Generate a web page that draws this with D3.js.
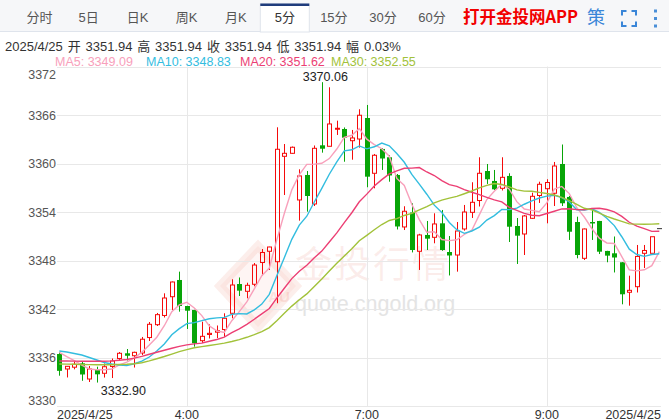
<!DOCTYPE html>
<html><head><meta charset="utf-8">
<script src="https://cdn.jsdelivr.net/npm/d3@7/dist/d3.min.js"></script>
<style>
html,body{margin:0;padding:0;background:#fff;}
svg{display:block;font-family:"Liberation Sans","Noto Sans CJK SC",sans-serif;}
</style></head><body>
<svg id="c" width="669" height="420"></svg>
<script>
// ---------------- data ----------------
const tabs = ["分时","5日","日K","周K","月K","5分","15分","30分","60分"];
const activeTab = "5分";
const infoText = "2025/4/25 开 3351.94 高 3351.94 收 3351.94 低 3351.94 幅 0.03%";
const maNames = ["MA5","MA10","MA20","MA30"];
const maLast = ["3349.09","3348.83","3351.62","3352.55"];
const yTicks = [3330,3336,3342,3348,3354,3360,3366,3372];
const xTickIdx = [17,41,65];
const xTickLabels = ["4:00","7:00","9:00"];
const dateLabel = "2025/4/25";
const maxLabel = "3370.06", minLabel = "3332.90";

const open  = [3336.43,3334.58,3334.80,3335.28,3333.34,3334.54,3334.05,3334.89,3335.88,3336.52,
               3336.22,3336.56,3338.47,3340.06,3341.20,3343.52,3345.59,3342.37,3341.88,3338.08,
               3338.85,3339.13,3339.46,3341.47,3345.09,3344.19,3345.06,3347.75,3349.14,3347.85,
               3360.89,3361.26,3355.49,3358.58,3354.99,3362.25,3362.13,3364.27,3364.27,3362.82,
               3363.03,3365.63,3358.79,3361.80,3360.77,3358.58,3352.15,3353.94,3349.14,3351.16,
               3350.87,3352.60,3349.05,3348.68,3351.90,3353.96,3355.42,3359.07,3357.84,3356.93,
               3358.46,3352.27,3351.28,3353.22,3356.04,3356.88,3356.32,3359.94,3355.86,3352.76,
               3348.27,3352.76,3352.89,3349.18,3348.89,3347.78,3344.07,3344.76,3348.89,3348.89,3351.94];
const high  = [3336.64,3334.95,3335.57,3335.48,3334.95,3334.86,3335.26,3335.88,3336.68,3337.05,
               3336.72,3338.54,3340.39,3341.51,3343.94,3345.40,3346.62,3342.40,3341.90,3340.43,
               3340.10,3339.96,3341.47,3345.68,3345.90,3345.25,3347.69,3349.42,3349.70,3364.48,
               3362.41,3362.10,3359.28,3359.07,3362.23,3370.06,3369.43,3365.30,3364.46,3364.15,
               3366.71,3367.24,3361.18,3361.90,3361.05,3358.70,3354.71,3355.08,3351.30,3352.89,
               3353.84,3354.25,3351.03,3352.76,3354.87,3357.68,3360.77,3359.94,3359.20,3360.77,
               3358.79,3353.26,3353.63,3356.39,3357.75,3358.05,3360.19,3362.35,3355.98,3353.42,
               3351.96,3354.25,3352.90,3349.20,3350.97,3347.80,3346.12,3349.92,3349.92,3350.94,3351.94];
const low   = [3333.75,3333.53,3334.54,3333.12,3332.97,3332.90,3333.52,3333.46,3335.57,3335.63,
               3334.76,3336.31,3338.04,3339.90,3340.95,3341.88,3341.67,3339.53,3337.34,3337.79,
               3338.35,3338.41,3338.57,3340.85,3343.61,3343.32,3344.81,3346.15,3346.83,3342.71,
               3356.10,3361.20,3352.93,3354.04,3354.74,3361.34,3362.10,3363.53,3360.22,3360.47,
               3361.96,3357.06,3356.93,3359.20,3357.75,3351.84,3351.77,3349.00,3346.83,3349.30,
               3350.13,3349.20,3346.15,3346.62,3351.69,3353.26,3354.68,3357.47,3356.72,3356.66,
               3350.29,3347.57,3348.68,3353.14,3355.12,3352.60,3354.74,3354.74,3350.54,3348.27,
               3348.06,3350.54,3348.80,3347.78,3346.52,3342.58,3342.41,3344.04,3347.07,3348.89,3351.94];
const close = [3334.35,3334.91,3335.16,3333.90,3334.58,3333.92,3334.86,3335.57,3336.52,3336.22,
               3336.64,3338.26,3340.11,3341.30,3343.36,3345.34,3342.37,3341.79,3337.76,3338.62,
               3338.99,3339.32,3340.85,3344.97,3344.27,3344.93,3347.44,3348.99,3349.67,3361.76,
               3361.26,3362.01,3358.46,3355.98,3361.88,3361.83,3364.89,3364.36,3363.19,3363.16,
               3365.97,3358.37,3361.02,3360.62,3358.52,3352.21,3354.09,3349.30,3351.16,3350.70,
               3352.52,3349.30,3348.62,3351.65,3354.00,3355.20,3358.79,3358.05,3356.81,3358.29,
               3352.18,3351.07,3353.51,3355.94,3357.43,3357.65,3359.69,3355.08,3351.56,3348.68,
               3351.90,3352.58,3349.09,3348.60,3348.37,3343.82,3344.31,3348.50,3349.24,3350.94,3351.94];

const ma5  = [3336.64,3336.10,3335.60,3335.05,3334.58,3334.49,3334.48,3334.57,3335.09,3335.42,
              3335.96,3336.64,3337.55,3338.51,3339.93,3341.67,3342.50,3342.83,3342.12,3341.18,
              3339.91,3339.30,3339.11,3340.55,3341.68,3342.87,3344.49,3346.12,3347.06,3350.56,
              3353.82,3356.74,3358.63,3359.89,3359.92,3360.03,3360.61,3361.79,3363.23,3363.49,
              3364.31,3363.01,3362.34,3361.83,3360.90,3358.15,3357.29,3354.95,3353.06,3351.49,
              3351.55,3350.60,3350.46,3350.56,3351.22,3351.75,3353.65,3355.54,3356.57,3357.43,
              3356.82,3355.28,3354.37,3354.20,3354.03,3355.12,3356.84,3357.16,3356.28,3354.53,
              3353.38,3351.96,3350.76,3350.17,3350.11,3348.49,3346.84,3346.72,3346.85,3347.36,3349.09];
const ma10 = [3336.80,3336.68,3336.50,3336.31,3336.00,3335.69,3335.38,3335.20,3335.07,3335.00,
              3335.23,3335.56,3336.06,3336.80,3337.68,3338.82,3339.57,3340.19,3340.32,3340.56,
              3340.79,3340.90,3340.97,3341.34,3341.43,3341.39,3341.89,3342.61,3343.81,3346.12,
              3348.35,3350.62,3352.38,3353.48,3355.24,3356.93,3358.67,3360.21,3361.56,3361.70,
              3362.17,3361.81,3362.07,3362.53,3362.19,3361.23,3360.15,3358.65,3357.44,3356.20,
              3354.85,3353.94,3352.70,3351.81,3351.36,3351.65,3352.12,3353.00,3353.56,3354.32,
              3354.29,3354.47,3354.96,3355.38,3355.73,3355.97,3356.06,3355.77,3355.24,3354.28,
              3354.25,3354.40,3353.96,3353.23,3352.32,3350.94,3349.40,3348.74,3348.51,3348.74,3348.83];
const ma20 = [3335.57,3335.56,3335.55,3335.54,3335.54,3335.53,3335.54,3335.58,3335.66,3335.75,
              3335.93,3336.14,3336.40,3336.65,3336.90,3337.15,3337.38,3337.56,3337.68,3337.78,
              3338.01,3338.23,3338.51,3339.07,3339.55,3340.10,3340.73,3341.40,3342.06,3343.34,
              3344.57,3345.76,3346.67,3347.41,3348.33,3349.16,3350.28,3351.41,3352.68,3353.91,
              3355.26,3356.21,3357.22,3358.00,3358.72,3359.08,3359.41,3359.43,3359.50,3358.95,
              3358.51,3357.88,3357.39,3357.17,3356.77,3356.44,3356.14,3355.82,3355.50,3355.26,
              3354.57,3354.21,3353.83,3353.60,3353.54,3353.81,3354.09,3354.38,3354.40,3354.30,
              3354.27,3354.43,3354.46,3354.31,3354.02,3353.46,3352.73,3352.25,3351.95,3351.60,3351.62];
const ma30 = [3335.20,3335.18,3335.16,3335.14,3335.12,3335.10,3335.10,3335.11,3335.13,3335.16,
              3335.22,3335.35,3335.58,3335.85,3336.12,3336.42,3336.72,3336.98,3337.20,3337.35,
              3337.48,3337.62,3337.78,3337.98,3338.22,3338.50,3338.82,3339.20,3339.70,3340.56,
              3341.46,3342.36,3343.14,3343.87,3344.78,3345.71,3346.71,3347.67,3348.56,3349.46,
              3350.44,3351.11,3351.80,3352.45,3352.95,3353.18,3353.57,3353.82,3354.27,3354.67,
              3355.12,3355.46,3355.72,3355.94,3356.26,3356.60,3356.98,3357.29,3357.52,3357.41,
              3357.10,3356.74,3356.58,3356.57,3356.43,3356.29,3356.11,3355.80,3355.42,3354.93,
              3354.46,3354.27,3353.87,3353.47,3353.13,3352.85,3352.53,3352.50,3352.48,3352.50,3352.55];

// ---------------- drawing ----------------
const svg = d3.select("#c");
const W = 669;
const RED = "#f50a0a", GREEN = "#08a508";
const maColors = ["#f8a0bb","#33bddf","#ec3f74","#a2c23a"];

// tab bar
svg.append("rect").attr("x",0).attr("y",0).attr("width",W).attr("height",31).attr("fill","#f6f7f9");
svg.append("line").attr("x1",0).attr("x2",W).attr("y1",31.5).attr("y2",31.5).attr("stroke","#dfe4ec");
const tabStep = 49.06, tabX0 = 39.5;
tabs.forEach((t,i)=>{
  const cx = tabX0 + i*tabStep;
  if (t === activeTab) {
    svg.append("rect").attr("x",cx-24.5).attr("y",4).attr("width",49).attr("height",28)
      .attr("fill","#fff").attr("stroke","#dfe4ec");
    svg.append("rect").attr("x",cx-24.5).attr("y",3.5).attr("width",49).attr("height",2.5).attr("fill","#1f3c7c");
  }
  svg.append("text").attr("x",cx).attr("y",22).attr("text-anchor","middle")
    .attr("font-size",13).attr("fill", t===activeTab?"#333":"#555").text(t);
});
svg.append("text").attr("x",463).attr("y",23).attr("font-size",16.5).attr("font-weight","bold")
  .attr("fill","#f20000").attr("font-family","'Noto Sans CJK SC',sans-serif").text("打开金投网APP");
svg.append("text").attr("x",596).attr("y",24).attr("text-anchor","middle").attr("font-size",18)
  .attr("fill","#3a86d8").attr("font-family","'Noto Sans CJK SC',sans-serif").text("策");
// fullscreen icon
const fi = d3.path();
const ix0=622, ix1=636, iy0=11, iy1=26, L=4.5;
fi.moveTo(ix0,iy0+L); fi.lineTo(ix0,iy0); fi.lineTo(ix0+L,iy0);
fi.moveTo(ix1-L,iy0); fi.lineTo(ix1,iy0); fi.lineTo(ix1,iy0+L);
fi.moveTo(ix1,iy1-L); fi.lineTo(ix1,iy1); fi.lineTo(ix1-L,iy1);
fi.moveTo(ix0+L,iy1); fi.lineTo(ix0,iy1); fi.lineTo(ix0,iy1-L);
svg.append("path").attr("d",fi.toString()).attr("fill","none").attr("stroke","#3a86d8").attr("stroke-width",2);
[11,18.5,26].forEach(y=>svg.append("rect").attr("x",654).attr("y",y-1.5).attr("width",3).attr("height",3).attr("fill","#4a8fd8"));

// info line
svg.append("text").attr("x",5).attr("y",51).attr("font-size",13).attr("word-spacing",1.2)
  .attr("fill","#333").text(infoText);
const maLegendX = [55,146,240,331];
maNames.forEach((n,k)=>{
  svg.append("text").attr("x",maLegendX[k]).attr("y",66).attr("font-size",12.5)
    .attr("fill",maColors[k]).text(n+": "+maLast[k]);
});

// scales
const x = d3.scaleLinear().domain([0,80]).range([59.3,659.3]);
const y = d3.scaleLinear().domain([3330,3372]).range([406,66.5]);
const left = 57, right = 661;

// watermark
const wm = svg.append("g");
wm.append("path").attr("d","M258,246 L296,286 L258,327 L220,286 Z")
  .attr("fill","rgba(235,120,100,0.07)").attr("stroke","rgba(235,120,100,0.13)").attr("stroke-width",9);
wm.append("text").attr("x",279).attr("y",302).attr("text-anchor","middle").attr("font-size",15)
  .attr("font-weight","bold").attr("fill","rgba(235,120,100,0.18)").text("AU");
wm.append("text").attr("x",295).attr("y",278).attr("font-size",37).attr("letter-spacing",2)
  .attr("font-family","'Noto Sans CJK SC',sans-serif").attr("fill","rgba(230,110,90,0.13)").text("金投行情");
wm.append("text").attr("x",295).attr("y",311).attr("font-size",21.5).attr("fill","#e4e4e4").text("quote.cngold.org");

// grid
yTicks.forEach(v=>{
  const yy = Math.round(y(v))+0.5;
  svg.append("line").attr("x1",left).attr("x2",right).attr("y1",yy).attr("y2",yy).attr("stroke","#e8e8e8");
});
xTickIdx.forEach(i=>{
  const xx = Math.round(x(i))+0.5;
  svg.append("line").attr("x1",xx).attr("x2",xx).attr("y1",y(3372)).attr("y2",y(3330)).attr("stroke","#e8e8e8");
});

// y labels
yTicks.forEach((v,k)=>{
  let yy = y(v)+4.5;
  if (k===yTicks.length-1) yy = y(v)+12.5;
  if (k===0) yy = y(v)-1;
  svg.append("text").attr("x",56).attr("y",yy).attr("text-anchor","end").attr("font-size",12.5)
    .attr("fill","#555").text(v);
});
// x labels
svg.append("text").attr("x",57).attr("y",418.5).attr("font-size",12.5).attr("fill","#333").text(dateLabel);
svg.append("text").attr("x",661).attr("y",418.5).attr("text-anchor","end").attr("font-size",12.5).attr("fill","#333").text(dateLabel);
xTickIdx.forEach((i,k)=>{
  svg.append("text").attr("x",x(i)).attr("y",418.5).attr("text-anchor","middle").attr("font-size",12.5)
    .attr("fill","#333").text(xTickLabels[k]);
});

// candles
const cg = svg.append("g");
close.forEach((c,i)=>{
  const o = open[i], h = high[i], l = low[i];
  const cx = Math.round(x(i))+0.5;
  const yTop = y(Math.max(o,c)), yBot = y(Math.min(o,c));
  if (c > o) {
    cg.append("line").attr("x1",cx).attr("x2",cx).attr("y1",y(h)).attr("y2",yTop).attr("stroke",RED);
    cg.append("line").attr("x1",cx).attr("x2",cx).attr("y1",yBot).attr("y2",y(l)).attr("stroke",RED);
    cg.append("rect").attr("x",cx-2).attr("y",yTop).attr("width",4).attr("height",Math.max(1,yBot-yTop))
      .attr("fill","none").attr("stroke",RED);
  } else if (c < o) {
    cg.append("line").attr("x1",cx).attr("x2",cx).attr("y1",y(h)).attr("y2",y(l)).attr("stroke",GREEN);
    cg.append("rect").attr("x",cx-2.5).attr("y",yTop).attr("width",5).attr("height",Math.max(1,yBot-yTop))
      .attr("fill",GREEN);
  } else {
    cg.append("line").attr("x1",cx).attr("x2",cx).attr("y1",y(h)).attr("y2",y(l)).attr("stroke","#333");
    cg.append("line").attr("x1",cx-2.5).attr("x2",cx+2.5).attr("y1",y(c)).attr("y2",y(c)).attr("stroke","#333");
  }
});

// MA lines
[ma5,ma10,ma20,ma30].forEach((arr,k)=>{
  const line = d3.line().x((d,i)=>x(i)).y(d=>y(d));
  svg.append("path").attr("d",line(arr)).attr("fill","none").attr("stroke",maColors[k]).attr("stroke-width",1.4);
});

// max / min labels
const iMax = d3.maxIndex(high), iMin = d3.minIndex(low);
svg.append("text").attr("x",x(iMax)+3.5).attr("y",y(high[iMax])-1.5).attr("text-anchor","middle")
  .attr("font-size",12.5).attr("fill","#222").text(maxLabel);
svg.append("text").attr("x",x(iMin)+4).attr("y",y(low[iMin])+12.5).attr("font-size",12.5)
  .attr("fill","#222").text(minLabel);
</script>
</body></html>
